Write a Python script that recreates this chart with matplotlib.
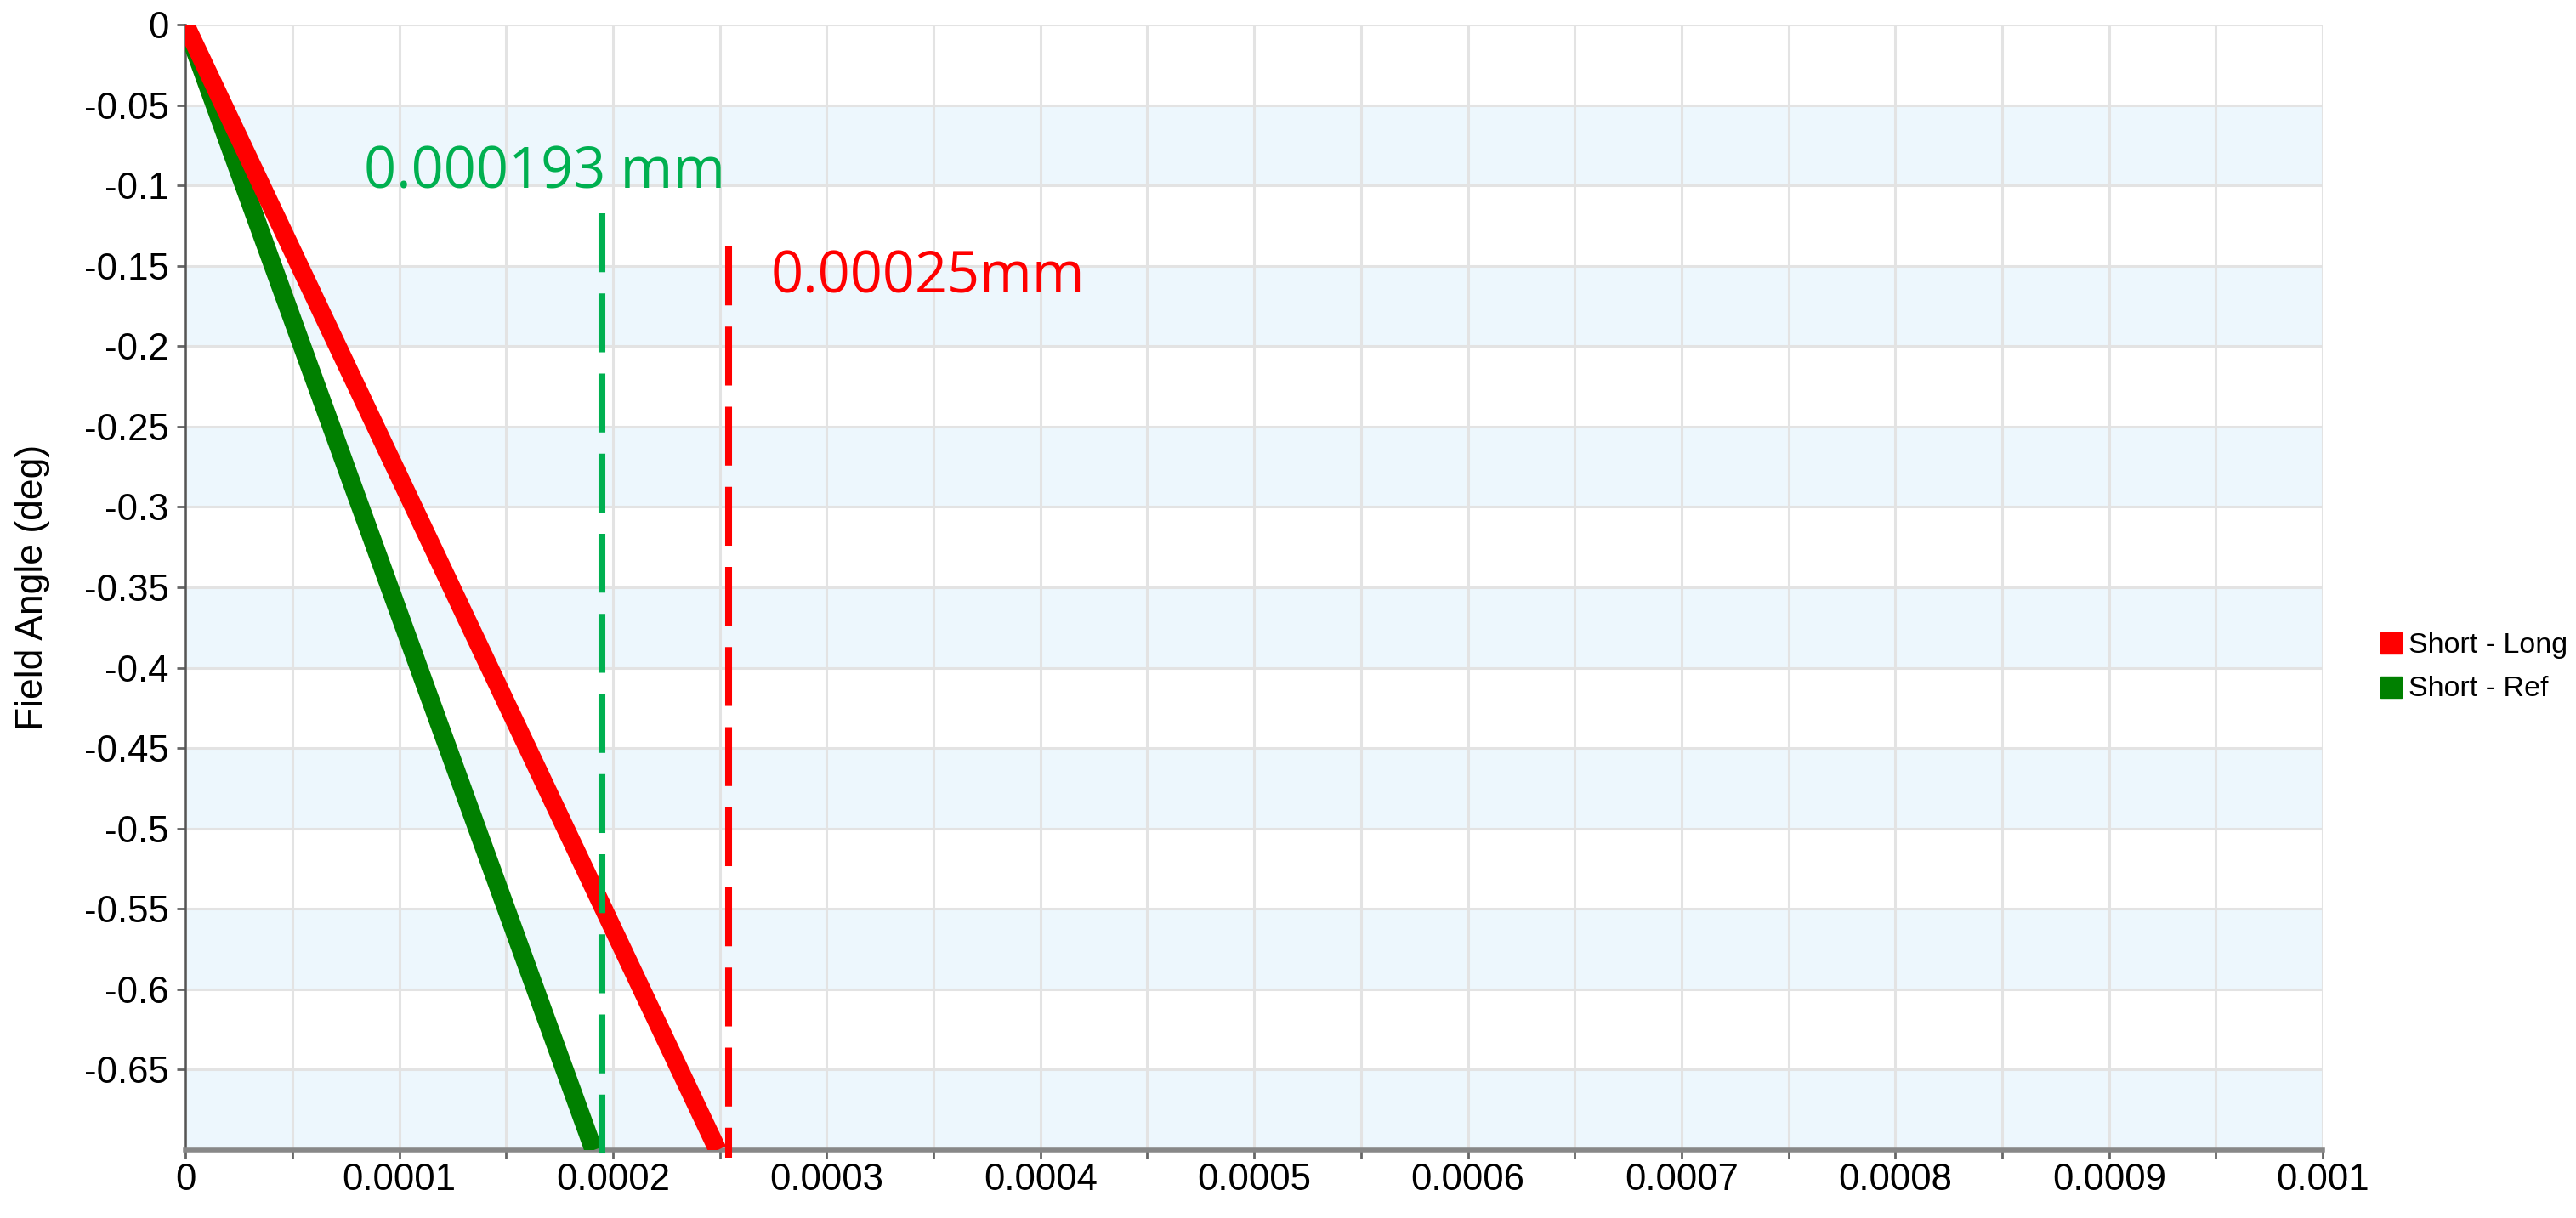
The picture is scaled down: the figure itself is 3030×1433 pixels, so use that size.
import matplotlib
matplotlib.use('Agg')
from matplotlib import pyplot as plt
from matplotlib.lines import Line2D

# chart data
field_angle = [0.0, -0.7]
short_long = [0.0, 0.000249]
short_ref = [0.0, 0.000191]

series_names = ['Short - Long', 'Short - Ref']
series_colors = ['#FF0000', '#008000']

# vertical marker lines and their labels
marker_x = [0.000195, 0.000254]
marker_top = [-0.1175, -0.138]
marker_colors = ['#00B050', '#FF0000']
marker_labels = ['0.000193 mm', '0.00025mm']
label_x = [0.0000835, 0.000274]
label_y = [-0.102, -0.1666]

x_ticks = [i * 0.0001 for i in range(11)]
x_tick_labels = ['0', '0.0001', '0.0002', '0.0003', '0.0004', '0.0005',
                 '0.0006', '0.0007', '0.0008', '0.0009', '0.001']
y_ticks = [-i * 0.05 for i in range(14)]
y_tick_labels = ['0', '-0.05', '-0.1', '-0.15', '-0.2', '-0.25', '-0.3', '-0.35',
                 '-0.4', '-0.45', '-0.5', '-0.55', '-0.6', '-0.65']

plt.rcParams['font.family'] = ['Liberation Sans', 'DejaVu Sans']

fig = plt.figure(figsize=(30.3, 14.33), dpi=100)
ax = fig.add_axes([0.072, 0.0558, 0.8297, 0.924])

# alternating light blue bands
for i in range(7):
    lo = -0.1 * i - 0.1
    ax.axhspan(lo, lo + 0.05, color='#EDF7FD', zorder=0, lw=0)

ax.plot(short_ref, field_angle, color=series_colors[1], lw=15.5, solid_capstyle='butt', zorder=3)
ax.plot(short_long, field_angle, color=series_colors[0], lw=15.5, solid_capstyle='butt', zorder=3)

for x, top, c in zip(marker_x, marker_top, marker_colors):
    ax.plot([x, x], [top, -0.705], color=c, lw=5.8, dashes=(8.6, 3.1),
            dash_capstyle='butt', clip_on=False, zorder=4)

for x, y, txt, c in zip(label_x, label_y, marker_labels, marker_colors):
    ax.text(x, y, txt, color=c, fontsize=48, family='Open Sans', ha='left', va='baseline', zorder=5)

ax.set_xlim(0, 0.001)
ax.set_ylim(-0.7, 0)
ax.set_xticks(x_ticks)
ax.set_xticklabels(x_tick_labels)
ax.set_xticks([0.00005 + i * 0.0001 for i in range(10)], minor=True)
ax.set_yticks(y_ticks)
ax.set_yticklabels(y_tick_labels)

ax.grid(True, which='both', axis='x', color='#E3E3E3', lw=2.2, zorder=1)
ax.grid(True, which='major', axis='y', color='#E3E3E3', lw=2.2, zorder=1)
ax.set_axisbelow(True)

ax.tick_params(axis='both', which='both', direction='out', length=7, width=2,
               color='#666666', labelsize=31.5)
ax.tick_params(axis='y', pad=7)
ax.tick_params(axis='x', pad=4)

for side in ['top', 'right']:
    ax.spines[side].set_visible(False)
ax.spines['left'].set_color('#555555')
ax.spines['left'].set_linewidth(1.8)
ax.spines['bottom'].set_color('#888888')
ax.spines['bottom'].set_linewidth(4)

ax.set_ylabel('Field Angle (deg)', fontsize=32, va='center')
ax.yaxis.set_label_coords(-0.0716, 0.5)

handles = [Line2D([], [], color=c, marker='s', ls='none', markersize=18) for c in series_colors]
fig.legend(handles, series_names, loc='center left', bbox_to_anchor=(0.918, 0.452),
           frameon=False, fontsize=24.5, handletextpad=0.1, labelspacing=0.6,
           handlelength=1.0, borderaxespad=0)

fig.savefig('out.png', dpi=100)
